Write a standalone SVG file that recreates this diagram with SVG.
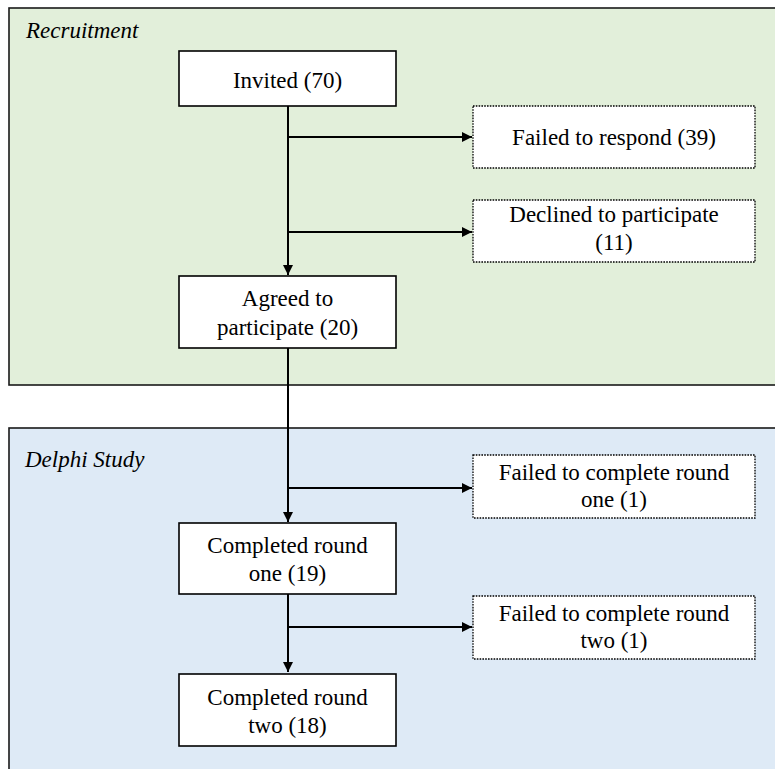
<svg xmlns="http://www.w3.org/2000/svg" width="775" height="769" viewBox="0 0 775 769" font-family="'Liberation Serif', 'DejaVu Serif', serif">
<defs>
<style>
.panel{stroke:#1a1a1a;stroke-width:1.6}
.box{fill:#fff;stroke:#000;stroke-width:1.6}
.dbox{fill:#fff;stroke:#000;stroke-width:1.3;stroke-dasharray:1.6 1.2}
text{font-family:'Liberation Serif','DejaVu Serif',serif;font-size:23px;fill:#000}
.c{text-anchor:middle}
.it{font-style:italic}
.ln{fill:none;stroke:#000;stroke-width:2}
</style>
<marker id="ah" viewBox="0 0 10 10" refX="10" refY="5" markerWidth="10" markerHeight="10" markerUnits="userSpaceOnUse" orient="auto">
<path d="M0,0 L10,5 L0,10 z" fill="#000"/>
</marker>
</defs>
<rect width="775" height="769" fill="#fff"/>
<g id="panel-recruitment">
<rect class="panel" x="9" y="8" width="775" height="377" fill="#e2efda"/>
<text class="it" x="26" y="38">Recruitment</text>
</g>
<g id="panel-delphi">
<rect class="panel" x="9" y="428" width="775" height="360" fill="#deeaf6"/>
<text class="it" x="25" y="467">Delphi Study</text>
</g>
<g id="connectors">
<path class="ln" d="M288,106 V275" marker-end="url(#ah)"/>
<path class="ln" d="M288,137 H472" marker-end="url(#ah)"/>
<path class="ln" d="M288,232 H472" marker-end="url(#ah)"/>
<path class="ln" d="M288,348 V522" marker-end="url(#ah)"/>
<path class="ln" d="M288,488 H472" marker-end="url(#ah)"/>
<path class="ln" d="M288,594 V672" marker-end="url(#ah)"/>
<path class="ln" d="M288,627 H472" marker-end="url(#ah)"/>
</g>
<g id="invited">
<rect class="box" x="179" y="51" width="217" height="55"/>
<text class="c" x="287.5" y="88">Invited (70)</text>
</g>
<g id="failed-respond">
<rect class="dbox" x="473" y="106" width="282" height="62"/>
<text class="c" x="614" y="145">Failed to respond (39)</text>
</g>
<g id="declined">
<rect class="dbox" x="473" y="200" width="282" height="62"/>
<text class="c" x="614" y="222">Declined to participate</text>
<text class="c" x="614" y="250">(11)</text>
</g>
<g id="agreed">
<rect class="box" x="179" y="276" width="217" height="72"/>
<text class="c" x="287.5" y="306">Agreed to</text>
<text class="c" x="287.5" y="335">participate (20)</text>
</g>
<g id="failed-round-one">
<rect class="dbox" x="473" y="455" width="282" height="63"/>
<text class="c" x="614" y="480">Failed to complete round</text>
<text class="c" x="614" y="507">one (1)</text>
</g>
<g id="completed-round-one">
<rect class="box" x="179" y="523" width="217" height="71"/>
<text class="c" x="287.5" y="553">Completed round</text>
<text class="c" x="287.5" y="581">one (19)</text>
</g>
<g id="failed-round-two">
<rect class="dbox" x="473" y="596" width="282" height="63"/>
<text class="c" x="614" y="621">Failed to complete round</text>
<text class="c" x="614" y="648">two (1)</text>
</g>
<g id="completed-round-two">
<rect class="box" x="179" y="674" width="217" height="72"/>
<text class="c" x="287.5" y="705">Completed round</text>
<text class="c" x="287.5" y="733">two (18)</text>
</g>
</svg>
